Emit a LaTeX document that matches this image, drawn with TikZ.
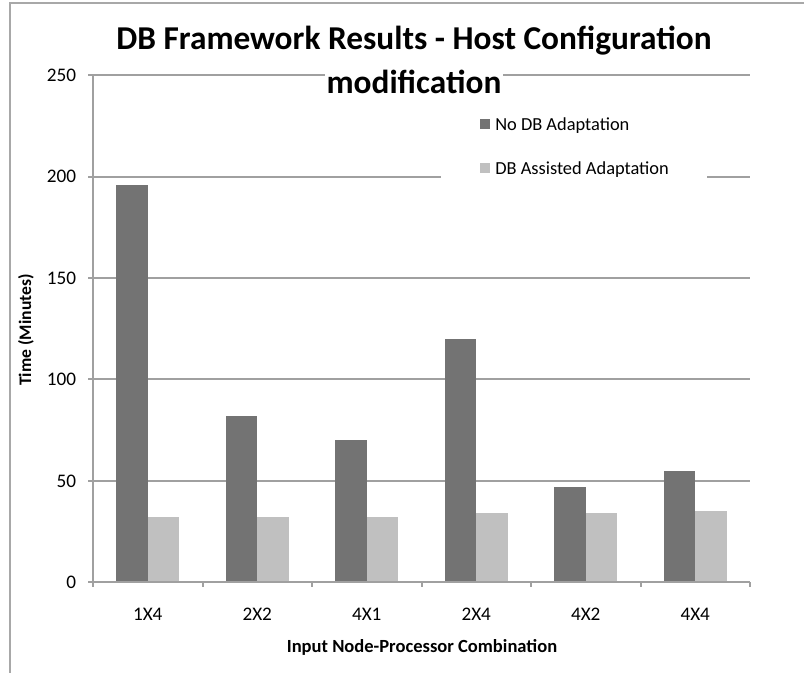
\documentclass[tikz,border=0pt]{standalone}
\usepackage{fontspec}
\setmainfont{Carlito}
\usepackage{xcolor}
\usetikzlibrary{positioning}

\definecolor{gridgray}{HTML}{A0A0A0}
\definecolor{framegray}{HTML}{A8A8A8}
\definecolor{bardark}{HTML}{737373}
\definecolor{barlight}{HTML}{C0C0C0}

\tikzset{
    gridline/.style={gridgray, line width=1.5pt},
    axisline/.style={gridgray, line width=1.5pt},
    ticklabel/.style={inner sep=0pt, font=\fontsize{14.4}{17}\selectfont},
    axistitle/.style={inner sep=0pt, font=\bfseries\fontsize{13.9}{16}\selectfont},
    charttitle/.style={fill=white, inner sep=1.5pt, font=\bfseries\fontsize{25}{30}\selectfont},
    legendkey/.style={rectangle, inner sep=0pt, minimum size=7.5pt},
    legendtext/.style={inner sep=0pt, anchor=base west, font=\fontsize{13.8}{16}\selectfont}
}

\begin{document}
\begin{tikzpicture}[x=0.75pt, y=-0.75pt]
    \useasboundingbox (0,0) rectangle (804,673);

    % Chart frame
    \draw[framegray, line width=1.5pt] (9.5,673) -- (9.5,3) -- (804,3);

    % Plot area: one unit per category along x, minutes along y
    \begin{scope}[shift={(93,582.3)}, x=82.125pt, y=1.521pt]
        % Gridlines and value labels
        \foreach \v in {50,100,...,250} {
            \draw[gridline] ([xshift=-3.75pt]0,\v) -- (6,\v);
        }
        \foreach \v in {0,50,...,250} {
            \node[ticklabel, anchor=east] (val\v) at ([xshift=-12.5pt]0,\v) {\v};
        }

        % Bars
        \foreach \i/\dark/\light/\lab in {0/196/32/1X4, 1/82/32/2X2, 2/70/32/4X1,
                                          3/120/34/2X4, 4/47/34/4X2, 5/55/35/4X4} {
            \fill[bardark] (\i+0.214,0) rectangle (\i+0.5,\dark);
            \fill[barlight] (\i+0.5,0) rectangle (\i+0.786,\light);
            \node[ticklabel] (cat\i) at ([yshift=-24pt]\i+0.5,0) {\lab};
        }

        % Axes
        \draw[axisline] ([xshift=-3.75pt]0,0) -- (6,0);
        \draw[axisline] (0,0) -- (0,250);
        \foreach \i in {0,...,6} {
            \draw[axisline] (\i,0) -- ([yshift=-3.75pt]\i,0);
        }
    \end{scope}

    % Title
    \node[charttitle, anchor=base] (title) at (414,50) {DB Framework Results - Host Configuration};
    \node[charttitle, anchor=base] (subtitle) at (414,94) {modification};

    % Legend
    \fill[white] (441,108) rectangle (707,186);
    \node[legendkey, fill=bardark] (keydark) at (484.6,124) {};
    \node[legendtext] (textdark) at (495,131) {No DB Adaptation};
    \node[legendkey, fill=barlight] (keylight) at (484.6,168) {};
    \node[legendtext] (textlight) at (495,175) {DB Assisted Adaptation};

    % Axis titles
    \node[axistitle, rotate=90, font=\bfseries\fontsize{13.2}{16}\selectfont] (ytitle) at (26,330) {Time (Minutes)};
    \node[axistitle] (xtitle) at (422,647) {Input Node-Processor Combination};
\end{tikzpicture}
\end{document}
